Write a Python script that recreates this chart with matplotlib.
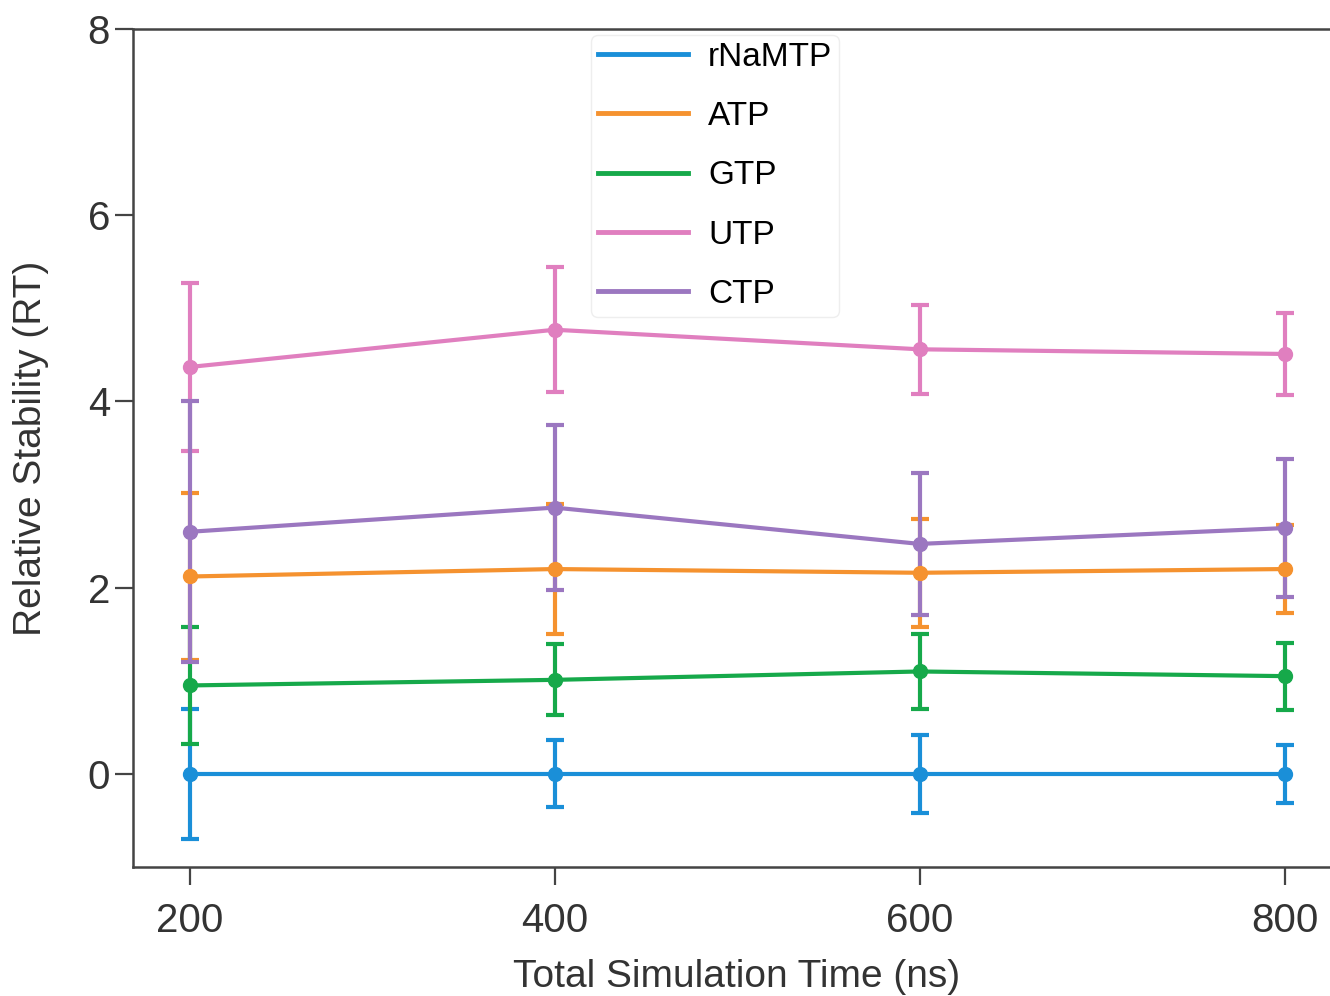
import numpy as np
import matplotlib
matplotlib.use('Agg')
import matplotlib.pyplot as plt

plt.rcParams['font.family'] = ['Liberation Sans', 'DejaVu Sans']

# simulation time (ns)
times = [200, 400, 600, 800]

# mean relative stability and error per nucleotide
rnamtp = [0.0, 0.0, 0.0, 0.0]
rnamtp_err = [0.70, 0.36, 0.42, 0.31]
atp = [2.12, 2.20, 2.16, 2.20]
atp_err = [0.90, 0.70, 0.58, 0.47]
gtp = [0.95, 1.01, 1.10, 1.05]
gtp_err = [0.63, 0.38, 0.40, 0.36]
utp = [4.37, 4.77, 4.56, 4.51]
utp_err = [0.90, 0.67, 0.48, 0.44]
ctp = [2.60, 2.86, 2.47, 2.64]
ctp_err = [1.40, 0.89, 0.76, 0.74]

series = [
    ('rNaMTP', rnamtp, rnamtp_err, '#1a8fd8'),
    ('ATP', atp, atp_err, '#f5922f'),
    ('GTP', gtp, gtp_err, '#16a94a'),
    ('UTP', utp, utp_err, '#e07fbf'),
    ('CTP', ctp, ctp_err, '#9b77c0'),
]

fig = plt.figure(figsize=(13.3, 9.96), dpi=100)
ax = fig.add_axes([0.1, 0.1295, 0.907, 0.8414])

handles = []
for name, vals, err, col in series:
    ax.errorbar(times, vals, yerr=err, color=col, lw=3, marker='o', ms=10,
                capsize=6.5, capthick=3, elinewidth=3)
    h, = ax.plot([], [], color=col, lw=3.5, label=name)
    handles.append(h)

ax.set_xlim(169, 830)
ax.set_ylim(-1, 8)
ax.set_xticks(times)
ax.set_yticks([0, 2, 4, 6, 8])
ax.tick_params(labelsize=29, length=13, width=1.6, color='#444444',
               labelcolor='#333333')
ax.tick_params(axis='x', pad=12)
ax.tick_params(axis='y', pad=3.5)
for s in ax.spines.values():
    s.set_linewidth(1.8)
    s.set_color('#444444')
ax.spines['right'].set_visible(False)

ax.set_xlabel('Total Simulation Time (ns)', fontsize=28, color='#333333')
ax.set_ylabel('Relative Stability (RT)', fontsize=28, color='#333333')
ax.xaxis.set_label_coords(0.5, -0.11)
ax.yaxis.set_label_coords(-0.07, 0.5)

leg = ax.legend(handles=handles, loc='upper left', fontsize=24,
                handlelength=2.7, labelspacing=0.85, borderpad=0.2,
                borderaxespad=0.0, handletextpad=0.6, framealpha=1,
                edgecolor='#eeeeee', bbox_to_anchor=(0.38, 0.993))

fig.savefig('out.png', dpi=100)
